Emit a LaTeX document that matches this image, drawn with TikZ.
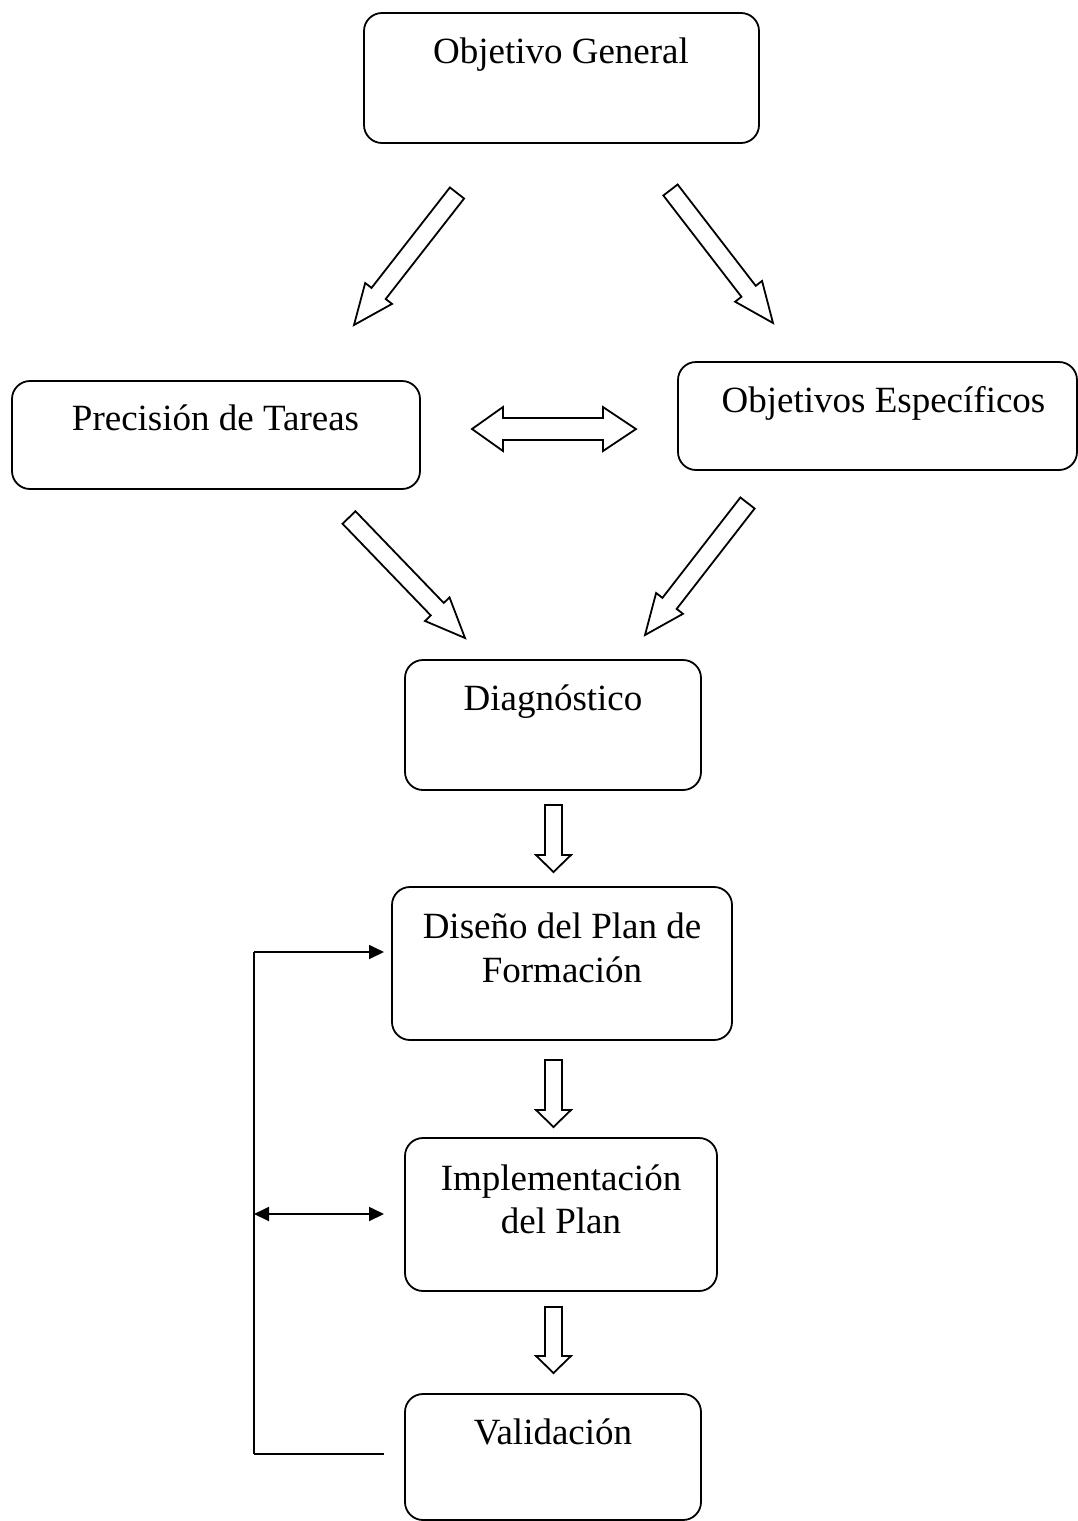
\documentclass[tikz,border=0pt]{standalone}
\usepackage{fontspec}
\setmainfont{Liberation Serif}
\usetikzlibrary{arrows.meta,calc}
\tikzset{
  box/.style={draw, line width=1.8pt, rounded corners=18pt, inner sep=0pt},
  lbl/.style={anchor=base, inner sep=0pt, font=\fontsize{37}{44}\selectfont},
  blk/.style={draw, line width=1.8pt, fill=white, line join=miter},
  fb/.style={line width=1.8pt},
  tri/.style={-{Triangle[length=15pt,width=14pt]}},
}
\newcommand\blockarrow[5]{%
  \path let \p1=(#1), \p2=(#2) in \pgfextra{%
    \pgfmathsetmacro\ang{atan2(\y2-\y1,\x2-\x1)}%
    \pgfmathsetmacro\len{veclen(\x2-\x1,\y2-\y1)}%
    \xdef\BAang{\ang}\xdef\BAlen{\len}};
  \pgfmathsetmacro\BAb{\BAlen-#5}%
  \draw[blk, shift={(#1)}, rotate=\BAang]
    (0pt,#3pt) -- (\BAb pt,#3pt) -- (\BAb pt,#4pt) -- (\BAlen pt,0pt)
    -- (\BAb pt,-#4pt) -- (\BAb pt,-#3pt) -- (0pt,-#3pt) -- cycle;
}
\begin{document}
\begin{tikzpicture}[x=1pt,y=-1pt]
\useasboundingbox (0,0) rectangle (1078,1521);
% boxes
\node[box, minimum width=395pt, minimum height=130pt] (og) at (561.5,78) {};
\node[box, minimum width=408pt, minimum height=108pt] (pt) at (216,435) {};
\node[box, minimum width=399pt, minimum height=108pt] (oe) at (877.5,416) {};
\node[box, minimum width=296pt, minimum height=130pt] (dg) at (553,725) {};
\node[box, minimum width=340pt, minimum height=153pt] (dp) at (562,963.5) {};
\node[box, minimum width=312pt, minimum height=153pt] (ip) at (561,1214.5) {};
\node[box, minimum width=296pt, minimum height=126pt] (va) at (553,1457) {};
% labels
\node[lbl] (ogt) at (561,63) {Objetivo General};
\node[lbl] (ptt) at (215.5,430) {Precisión de Tareas};
\node[lbl] (oet) at (883.5,412) {Objetivos Específicos};
\node[lbl] (dgt) at (553,710) {Diagnóstico};
\node[lbl] (dpt1) at (562,938) {Diseño del Plan de};
\node[lbl] (dpt2) at (562,982) {Formación};
\node[lbl] (ipt1) at (561,1190) {Implementación};
\node[lbl] (ipt2) at (561,1233) {del Plan};
\node[lbl] (vat) at (553,1444) {Validación};
% block arrow end points
\coordinate (a1s) at (457,193);   \coordinate (a1e) at (354,325);
\coordinate (a2s) at (670.5,190); \coordinate (a2e) at (773,323);
\coordinate (a3s) at (349,517.5); \coordinate (a3e) at (465,638);
\coordinate (a4s) at (747.5,503); \coordinate (a4e) at (645,635);
\coordinate (d1s) at (553.5,805); \coordinate (d1e) at (553.5,872);
\coordinate (d2s) at (553.5,1060); \coordinate (d2e) at (553.5,1127);
\coordinate (d3s) at (553.5,1307); \coordinate (d3e) at (553.5,1373);
\blockarrow{a1s}{a1e}{9}{17}{40}
\blockarrow{a2s}{a2e}{9}{17}{40}
\blockarrow{a3s}{a3e}{9}{17}{40}
\blockarrow{a4s}{a4e}{9}{17}{40}
\blockarrow{d1s}{d1e}{8.5}{17.5}{17}
\blockarrow{d2s}{d2e}{8.5}{17.5}{17}
\blockarrow{d3s}{d3e}{8.5}{17.5}{17}
% double block arrow
\draw[blk] (472,429) -- (503,407) -- (503,418) -- (603,418) -- (603,407) -- (636,429)
  -- (603,451) -- (603,440) -- (503,440) -- (503,451) -- cycle;
% feedback lines
\coordinate (f1) at (254,952);  \coordinate (f1e) at (384,952);
\coordinate (f2) at (254,1214); \coordinate (f2e) at (384,1214);
\coordinate (f3) at (254,1454); \coordinate (f3e) at (384,1454);
\draw[fb] (f1) -- (f3);
\draw[fb] (f3) -- (f3e);
\draw[fb, tri] (f1) -- (f1e);
\draw[fb, {Triangle[length=15pt,width=14pt]}-{Triangle[length=15pt,width=14pt]}] (f2) -- (f2e);
\end{tikzpicture}
\end{document}
